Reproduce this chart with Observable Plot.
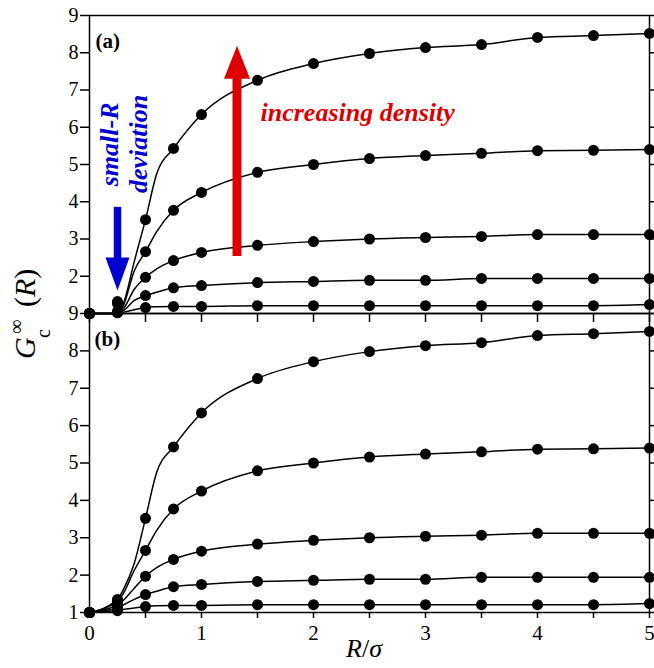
<!DOCTYPE html>
<html><head><meta charset="utf-8">
<script src="https://cdn.jsdelivr.net/npm/d3@7"></script>
<script src="https://cdn.jsdelivr.net/npm/@observablehq/plot@0.6"></script>
<style>
body{margin:0;background:#fff;}
#wrap{position:relative;width:654px;height:668px;}
#wrap svg{position:absolute;left:0;}
</style></head><body><div id="wrap"></div>
<script>
// Marker R values (R/sigma) shared by both panels (except R = 0.25)
const R_dots = [0, 0.5, 0.75, 1, 1.5, 2, 2.5, 3, 3.5, 4, 4.5, 5];
const dens1 = [1, 1.16, 1.19, 1.19, 1.21, 1.21, 1.21, 1.21, 1.21, 1.21, 1.21, 1.24];
const dens2 = [1, 1.48, 1.69, 1.75, 1.83, 1.86, 1.89, 1.89, 1.94, 1.94, 1.94, 1.94];
const dens3 = [1, 1.97, 2.42, 2.64, 2.83, 2.93, 3.00, 3.04, 3.07, 3.12, 3.12, 3.12];
const dens4 = [1, 2.66, 3.77, 4.25, 4.79, 5.00, 5.16, 5.24, 5.30, 5.37, 5.38, 5.40];
const dens5 = [1, 3.52, 5.43, 6.34, 7.26, 7.71, 7.98, 8.14, 8.22, 8.41, 8.46, 8.52];
// markers at R = 0.25 (curves 1..5)
const R_small = 0.25;
const dotA_small = [1.02, 1.03, 1.06, 1.27, 1.32];
const dotB_small = [1.05, 1.12, 1.20, 1.30, 1.35];
// extra line points at small R, panel (a)
const R_lineA = [0.2, 0.25, 0.3, 0.4, 0.6];
const lineA1 = [1.00, 1.00, 1.03, 1.10, 1.18];
const lineA2 = [1.00, 1.01, 1.07, 1.35, 1.57];
const lineA3 = [1.00, 1.02, 1.12, 1.65, 2.20];
const lineA4 = [1.00, 1.03, 1.20, 2.15, 3.20];
const lineA5 = [1.00, 1.03, 1.25, 2.40, 4.75];
// extra line points at small R, panel (b)
const R_lineB = [0.3, 0.4, 0.6];
const lineB1 = [1.08, 1.12, 1.18];
const lineB2 = [1.20, 1.35, 1.57];
const lineB3 = [1.32, 1.65, 2.20];
const lineB4 = [1.50, 2.13, 3.20];
const lineB5 = [1.60, 2.32, 4.75];
const yTicks = [1, 2, 3, 4, 5, 6, 7, 8, 9];
const xTicks = [0, 0.5, 1, 1.5, 2, 2.5, 3, 3.5, 4, 4.5, 5];

const dens = [dens1, dens2, dens3, dens4, dens5];
const linesA = [lineA1, lineA2, lineA3, lineA4, lineA5];
const linesB = [lineB1, lineB2, lineB3, lineB4, lineB5];

function buildRows(smallDots, extraR, extraLines, lineThroughSmall) {
  const dots = [], lines = [];
  dens.forEach((arr, k) => {
    const ser = [];
    arr.forEach((g, i) => { dots.push({R: R_dots[i], G: g, k}); ser.push({R: R_dots[i], G: g, k}); });
    dots.push({R: R_small, G: smallDots[k], k});
    if (lineThroughSmall) ser.push({R: R_small, G: smallDots[k], k});
    extraR.forEach((r, i) => ser.push({R: r, G: extraLines[k][i], k}));
    ser.sort((a, b) => a.R - b.R);
    lines.push(...ser);
  });
  return {dots, lines};
}
const rowsA = buildRows(dotA_small, R_lineA, linesA, false);
const rowsB = buildRows(dotB_small, R_lineB, linesB, true);

const RED = "#dc0000", BLUE = "#0000d0";
const FONT = "Liberation Serif";
const headUp = {draw(c) { c.moveTo(0, 0); c.lineTo(13, 33); c.lineTo(-13, 33); c.closePath(); }};
const headDown = {draw(c) { c.moveTo(0, 0); c.lineTo(12, -33); c.lineTo(-12, -33); c.closePath(); }};

const common = (rows) => [
  Plot.frame({stroke: "black", strokeWidth: 1.5}),
  Plot.line(rows.lines, {x: "R", y: "G", z: "k", curve: "monotone-x", stroke: "black", strokeWidth: 1.5}),
  Plot.dot(rows.dots, {x: "R", y: "G", r: 5.5, fill: "black"})
];
const plotStyle = {fontFamily: FONT, fontSize: "20px", background: "transparent", overflow: "visible", color: "black"};

const panelA = Plot.plot({
  width: 654, height: 313, marginTop: 15, marginBottom: 0, marginLeft: 89, marginRight: 5,
  x: {domain: [0, 5]}, y: {domain: [1, 9]}, style: plotStyle,
  marks: [
    Plot.axisY({ticks: yTicks.slice(1), tickSize: 9, tickPadding: 2, fontSize: 20, fontFamily: FONT, label: null, strokeWidth: 1.5}),
    Plot.axisY({anchor: "right", ticks: yTicks, tickSize: 6, tickFormat: () => "", label: null, strokeWidth: 1.5}),
    Plot.axisX({anchor: "bottom", ticks: xTicks, tickSize: 9, tickFormat: () => "", label: null, strokeWidth: 1.5}),
    ...common(rowsA),
    Plot.ruleX([1.317], {y1: 2.53, y2: 7.35, stroke: RED, strokeWidth: 9}),
    Plot.dot([1.317], {x: d => d, y: 8.19, symbol: headUp, r: 10, fill: RED, stroke: "none"}),
    Plot.ruleX([0.25], {y1: 3.85, y2: 2.45, stroke: BLUE, strokeWidth: 7.5}),
    Plot.dot([0.25], {x: d => d, y: 1.62, symbol: headDown, r: 10, fill: BLUE, stroke: "none"}),
    Plot.text(["increasing density"], {x: 1.527, y: 6.38, text: d => d, textAnchor: "start", lineAnchor: "middle", fill: RED, fontSize: 26, fontWeight: "bold", fontStyle: "italic", fontFamily: FONT}),
    Plot.text(["small-R"], {x: 0.182, y: 5.54, text: d => d, rotate: -90, fill: BLUE, fontSize: 26, fontWeight: "bold", fontStyle: "italic", fontFamily: FONT}),
    Plot.text(["deviation"], {x: 0.443, y: 5.55, text: d => d, rotate: -90, fill: BLUE, fontSize: 26, fontWeight: "bold", fontStyle: "italic", fontFamily: FONT}),
    Plot.text(["(a)"], {text: d => d, frameAnchor: "top-left", dx: 6, dy: 18, fontSize: 21, fontWeight: "bold", fontFamily: FONT})
  ]
});

const panelB = Plot.plot({
  width: 654, height: 355, marginTop: 0, marginBottom: 56, marginLeft: 89, marginRight: 5,
  x: {domain: [0, 5]}, y: {domain: [1, 9]}, style: plotStyle,
  marks: [
    Plot.axisY({ticks: yTicks, tickSize: 9, tickPadding: 2, fontSize: 20, fontFamily: FONT, label: null, strokeWidth: 1.5}),
    Plot.axisY({anchor: "right", ticks: yTicks, tickSize: 6, tickFormat: () => "", label: null, strokeWidth: 1.5}),
    Plot.axisX({anchor: "bottom", ticks: xTicks, tickSize: 6, tickPadding: 7, fontSize: 21, fontFamily: FONT, tickFormat: d => Number.isInteger(d) ? String(d) : "", label: null, strokeWidth: 1.5}),
    ...common(rowsB),
    Plot.text(["(b)"], {text: d => d, frameAnchor: "top-left", dx: 5, dy: 18, fontSize: 21, fontWeight: "bold", fontFamily: FONT})
  ]
});

const wrap = document.getElementById("wrap");
panelB.style.top = "313px";
panelA.style.top = "0px";
wrap.appendChild(panelB);
wrap.appendChild(panelA);

// axis titles
const ov = d3.create("svg").attr("width", 654).attr("height", 668)
  .style("top", "0px").style("pointer-events", "none").style("overflow", "visible");
const yl = ov.append("text").attr("transform", "translate(35,359) rotate(-90)")
  .attr("font-family", FONT).attr("font-size", 30).attr("fill", "black");
yl.append("tspan").attr("x", 0).attr("font-style", "italic").text("G");
yl.append("tspan").attr("x", 21).attr("dy", 15).attr("font-size", 20).text("c");
yl.append("tspan").attr("x", 25).attr("dy", -27).attr("font-size", 20).text("\u221E");
yl.append("tspan").attr("x", 52).attr("dy", 12).text("(");
yl.append("tspan").attr("font-style", "italic").text("R");
yl.append("tspan").text(")");
const xl = ov.append("text").attr("x", 364).attr("y", 657).attr("text-anchor", "middle")
  .attr("font-family", FONT).attr("font-size", 26).attr("fill", "black");
xl.append("tspan").attr("font-style", "italic").text("R");
xl.append("tspan").text("/");
xl.append("tspan").attr("font-style", "italic").text("\u03C3");
wrap.appendChild(ov.node());
</script>
</body></html>
